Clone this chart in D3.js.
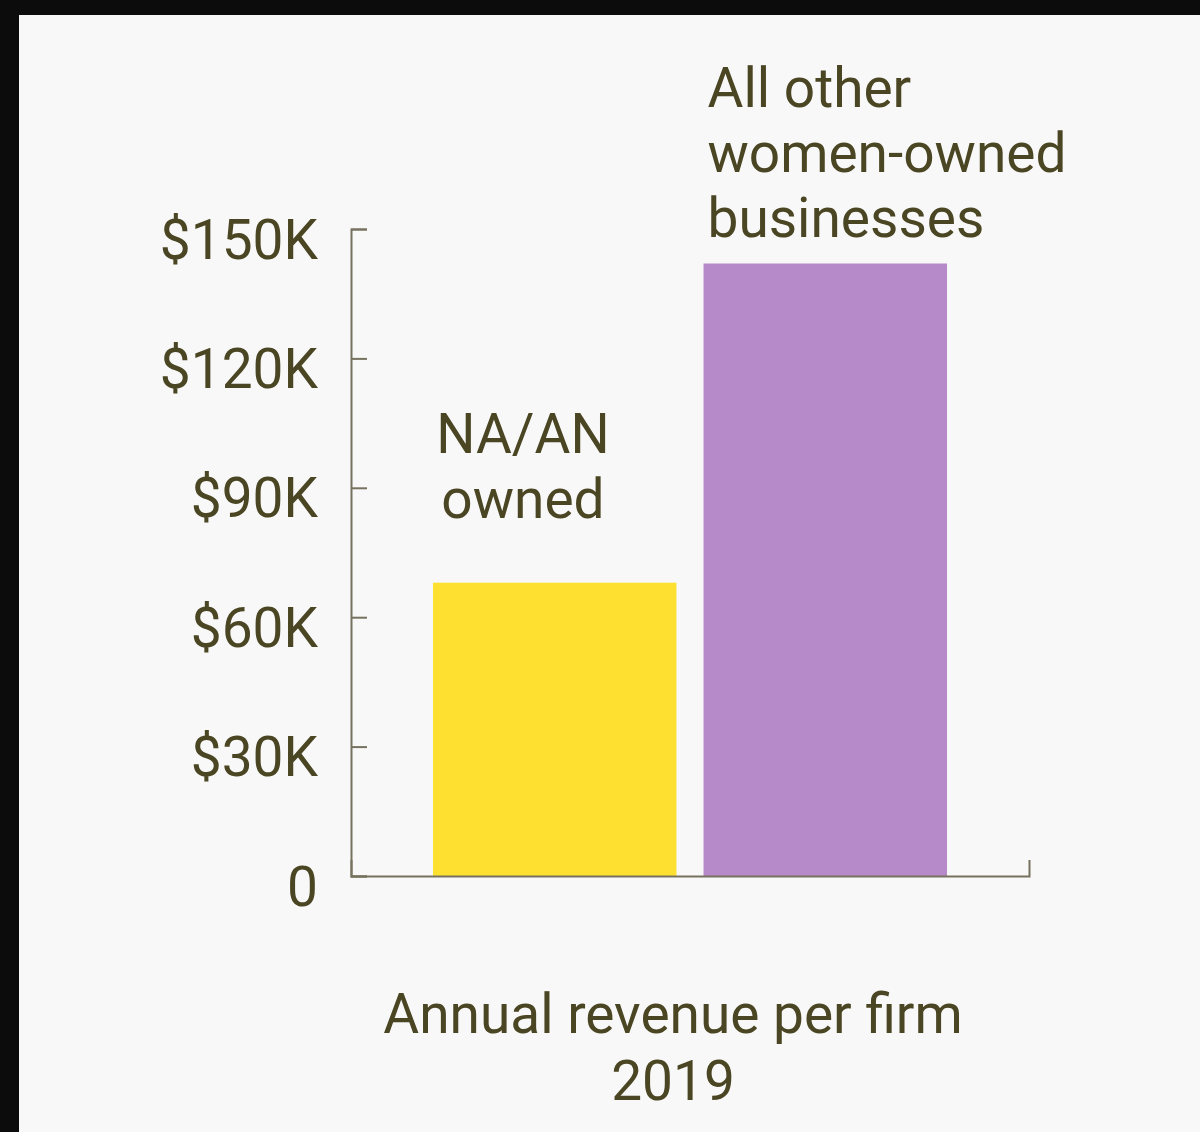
<!DOCTYPE html>
<html>
<head>
<meta charset="utf-8">
<script src="https://cdn.jsdelivr.net/npm/d3@7"></script>
<style>
  html, body { margin: 0; padding: 0; background: #0c0c0c; }
  svg { display: block; }
  text { font-family: Roboto, "Noto Sans", sans-serif; fill: #4a4522; }
</style>
</head>
<body>
<svg id="chart" width="1200" height="1132"></svg>
<script>
// Annual revenue per firm, 2019
const categories = ["NA/AN owned", "All other women-owned businesses"];
const revenue = [68000, 142000];
const barLabels = [["NA/AN", "owned"], ["All other", "women-owned", "businesses"]];
const barColors = ["#fde030", "#b689c8"];
const tickValues = [0, 30000, 60000, 90000, 120000, 150000];
const tickLabels = ["0", "$30K", "$60K", "$90K", "$120K", "$150K"];
const titleLines = ["Annual revenue per firm", "2019"];

const svg = d3.select("#chart");

// light panel inside the dark frame
svg.append("rect")
  .attr("x", 19).attr("y", 15)
  .attr("width", 1200 - 19).attr("height", 1132 - 15)
  .attr("fill", "#f8f8f8");

const y = d3.scaleLinear().domain([0, 150000]).range([876, 229]);
const x = d3.scaleBand().domain(categories).range([351, 1029])
  .paddingInner(0.1).paddingOuter(0.303);

const axisColor = "#77725f";
const fontSize = 55;

// bars
svg.append("g").selectAll("rect")
  .data(categories)
  .join("rect")
  .attr("x", d => x(d))
  .attr("y", (d, i) => y(revenue[i]))
  .attr("width", x.bandwidth())
  .attr("height", (d, i) => y(0) - y(revenue[i]))
  .attr("fill", (d, i) => barColors[i]);

// y axis: ticks point inward, labels sit a little below each tick
const yAxis = svg.append("g")
  .attr("transform", `translate(${x.range()[0]},0)`)
  .call(d3.axisLeft(y)
    .tickValues(tickValues)
    .tickFormat((d, i) => tickLabels[i])
    .tickSizeInner(-16)
    .tickSizeOuter(-16)
    .tickPadding(33));
yAxis.select(".domain").attr("stroke", axisColor).attr("stroke-width", 2);
yAxis.selectAll(".tick line").attr("stroke", axisColor).attr("stroke-width", 2);
yAxis.selectAll(".tick text")
  .attr("font-size", fontSize)
  .attr("font-family", "Roboto, 'Noto Sans', sans-serif")
  .attr("fill", "#4a4522")
  .attr("dy", "0.53em");

// x axis baseline with a raised end cap
const xAxis = svg.append("g")
  .attr("transform", `translate(0,${y(0)})`)
  .call(d3.axisBottom(x).tickValues([]).tickSizeOuter(-16));
xAxis.select(".domain").attr("stroke", axisColor).attr("stroke-width", 2);

// category labels above the bars
const labelLayout = [
  { anchor: "middle", dx: 90, gap: 65 },
  { anchor: "start", dx: 4, gap: 27 }
];
const lineHeight = 65;
categories.forEach((c, i) => {
  const lay = labelLayout[i];
  const lines = barLabels[i];
  const lastBaseline = y(revenue[i]) - lay.gap;
  const t = svg.append("text")
    .attr("text-anchor", lay.anchor)
    .attr("font-size", fontSize);
  lines.forEach((line, j) => {
    t.append("tspan")
      .attr("x", x(c) + lay.dx)
      .attr("y", lastBaseline - (lines.length - 1 - j) * lineHeight)
      .text(line);
  });
});

// axis title below the chart
const title = svg.append("text")
  .attr("text-anchor", "middle")
  .attr("font-size", fontSize);
titleLines.forEach((line, j) => {
  title.append("tspan")
    .attr("x", 673)
    .attr("y", 1033 + j * 67)
    .text(line);
});
</script>
</body>
</html>
